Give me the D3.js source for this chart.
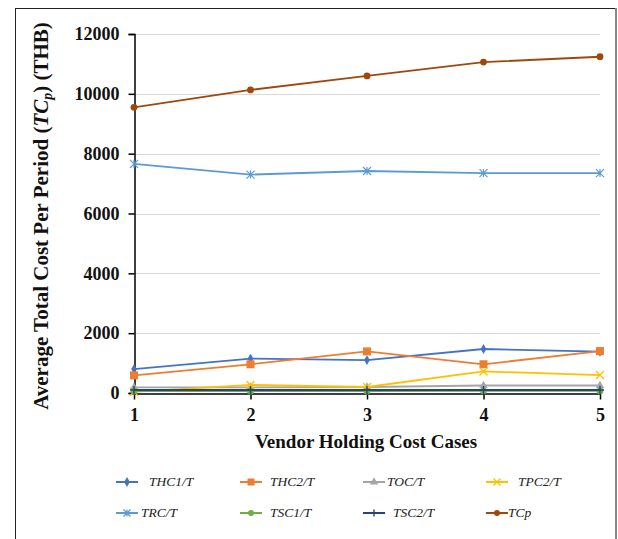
<!DOCTYPE html>
<html>
<head>
<meta charset="utf-8">
<script src="https://cdn.jsdelivr.net/npm/d3@7"></script>
<style>
  html, body { margin: 0; padding: 0; background: #fff; }
  svg { display: block; }
</style>
</head>
<body>
<svg id="chart" width="618" height="539"></svg>
<script>
// Vendor holding cost cases on the x axis
const cases = [1, 2, 3, 4, 5];
const yTicks = [0, 2000, 4000, 6000, 8000, 10000, 12000];

// Average cost components per period (THB)
const thc1 = [800, 1150, 1100, 1470, 1380];
const thc2 = [590, 960, 1390, 960, 1400];
const toc  = [190, 190, 200, 250, 250];
const tpc2 = [40, 270, 200, 720, 600];
const trc  = [7660, 7300, 7420, 7350, 7350];
const tsc1 = [60, 60, 60, 70, 70];
const tsc2 = [100, 100, 100, 100, 100];
const tcp  = [9550, 10130, 10600, 11060, 11240];

const seriesNames = ["THC1/T", "THC2/T", "TOC/T", "TPC2/T", "TRC/T", "TSC1/T", "TSC2/T", "TCp"];
const seriesColors = ["#4472C4", "#ED7D31", "#A5A5A5", "#FFC000", "#5B9BD5", "#70AD47", "#264478", "#9E480E"];
const seriesMarkers = ["diamond", "square", "triangle", "x", "star", "circle", "plus", "circle"];

const series = [thc1, thc2, toc, tpc2, trc, tsc1, tsc2, tcp].map((values, i) => ({
  name: seriesNames[i], values, color: seriesColors[i], marker: seriesMarkers[i]
}));

const svg = d3.select("#chart");
const serif = "'Liberation Serif', 'DejaVu Serif', serif";

// Outer frame
svg.append("rect").attr("x", 15.5).attr("y", 8.5).attr("width", 600).attr("height", 540)
  .attr("fill", "none").attr("stroke", "#222").attr("stroke-width", 1);
svg.append("line").attr("x1", 616).attr("x2", 616).attr("y1", 8).attr("y2", 539)
  .attr("stroke", "#888").attr("stroke-width", 2);

const x = d3.scaleLinear().domain([1, 5]).range([134, 600]);
const y = d3.scaleLinear().domain([0, 12000]).range([393, 34]);

// Gridlines
svg.append("g").selectAll("line").data(yTicks.filter(d => d > 0)).join("line")
  .attr("x1", 134).attr("x2", 600)
  .attr("y1", d => Math.round(y(d)) + 0.5).attr("y2", d => Math.round(y(d)) + 0.5)
  .attr("stroke", "#d9d9d9").attr("stroke-width", 1);

// Y axis
const yAxis = svg.append("g").attr("transform", "translate(134.5,0)")
  .call(d3.axisLeft(y).tickValues(yTicks).tickSize(6).tickPadding(9).tickFormat(d3.format("d")));
yAxis.select(".domain").attr("stroke", "#000").attr("stroke-width", 1.5);
yAxis.selectAll(".tick line").attr("stroke", "#000").attr("stroke-width", 1.5);
yAxis.selectAll(".tick text").attr("font-family", serif).attr("font-size", 18)
  .attr("font-weight", "bold").attr("fill", "#111");

// X axis
const xAxis = svg.append("g").attr("transform", "translate(0,393.5)")
  .call(d3.axisBottom(x).tickValues(cases).tickSize(6).tickSizeOuter(0).tickPadding(9).tickFormat(d3.format("d")));
xAxis.select(".domain").attr("stroke", "#000").attr("stroke-width", 1.5);
xAxis.selectAll(".tick line").attr("stroke", "#000").attr("stroke-width", 1.5);
xAxis.selectAll(".tick text").attr("font-family", serif).attr("font-size", 18)
  .attr("font-weight", "bold").attr("fill", "#111");

// Axis titles
svg.append("text").attr("x", 366).attr("y", 448).attr("text-anchor", "middle")
  .attr("font-family", serif).attr("font-size", 19).attr("font-weight", "bold").attr("fill", "#111")
  .text("Vendor Holding Cost Cases");

const yt = svg.append("text").attr("transform", "translate(48,216) rotate(-90)")
  .attr("text-anchor", "middle").attr("font-family", serif).attr("font-size", 21)
  .attr("font-weight", "bold").attr("fill", "#111");
yt.append("tspan").text("Average Total Cost Per Period (");
yt.append("tspan").attr("font-style", "italic").text("TC");
yt.append("tspan").attr("font-style", "italic").attr("font-size", 14).attr("dy", 4).text("p");
yt.append("tspan").attr("dy", -4).text(") (THB)");

// Marker drawing
function drawMarker(g, type, color, size) {
  const s = size;
  switch (type) {
    case "diamond":
      g.append("path").attr("d", d3.symbol(d3.symbolDiamond, 28)()).attr("fill", color); break;
    case "square":
      g.append("rect").attr("x", -s).attr("y", -s).attr("width", 2 * s).attr("height", 2 * s).attr("fill", color); break;
    case "triangle":
      g.append("path").attr("d", d3.symbol(d3.symbolTriangle, 30)()).attr("fill", color); break;
    case "circle":
      g.append("circle").attr("r", s * 0.85).attr("fill", color); break;
    case "x":
      g.append("path").attr("d", `M${-s},${-s}L${s},${s}M${-s},${s}L${s},${-s}`)
        .attr("stroke", color).attr("stroke-width", 1.3).attr("fill", "none"); break;
    case "star":
      g.append("path").attr("d", `M${-s},${-s}L${s},${s}M${-s},${s}L${s},${-s}M0,${-s}L0,${s}`)
        .attr("stroke", color).attr("stroke-width", 1.2).attr("fill", "none"); break;
    case "plus":
      g.append("path").attr("d", `M${-s},0L${s},0M0,${-s}L0,${s}`)
        .attr("stroke", color).attr("stroke-width", 1.4).attr("fill", "none"); break;
  }
}

const line = d3.line().x((d, i) => x(cases[i])).y(d => y(d));

const plot = svg.append("g");
series.forEach(s => {
  const g = plot.append("g");
  g.append("path").datum(s.values).attr("d", line).attr("fill", "none")
    .attr("stroke", s.color).attr("stroke-width", 1.8);
  s.values.forEach((v, i) => {
    const m = g.append("g").attr("transform", `translate(${x(cases[i])},${y(v)})`);
    drawMarker(m, s.marker, s.color, 4);
  });
});

// Legend
const legendPos = [
  { lx: 116, tx: 149, ly: 482 }, { lx: 240, tx: 270, ly: 482 },
  { lx: 363, tx: 387, ly: 482 }, { lx: 486, tx: 518, ly: 482 },
  { lx: 116, tx: 141, ly: 513 }, { lx: 240, tx: 270, ly: 513 },
  { lx: 363, tx: 393, ly: 513 }, { lx: 486, tx: 508, ly: 513 }
];
series.forEach((s, i) => {
  const p = legendPos[i];
  const g = svg.append("g");
  g.append("line").attr("x1", p.lx).attr("x2", p.lx + 22).attr("y1", p.ly).attr("y2", p.ly)
    .attr("stroke", s.color).attr("stroke-width", 2);
  const m = g.append("g").attr("transform", `translate(${p.lx + 11},${p.ly})`);
  drawMarker(m, s.marker, s.color, 3.5);
  g.append("text").attr("x", p.tx).attr("y", p.ly + 4).attr("font-family", serif)
    .attr("font-style", "italic").attr("font-size", 13.5).attr("fill", "#222").text(s.name);
});
</script>
</body>
</html>
